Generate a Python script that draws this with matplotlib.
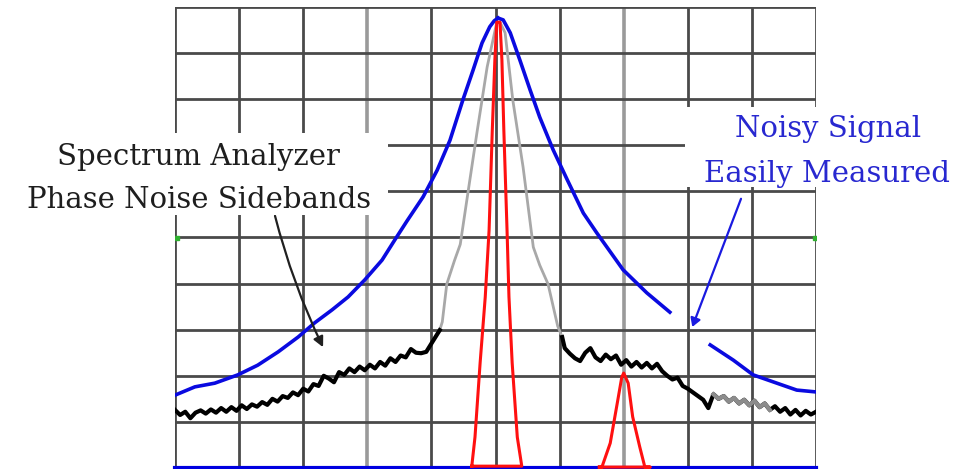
import numpy as np
import matplotlib
matplotlib.use("Agg")
import matplotlib.pyplot as plt
from matplotlib.patches import Rectangle

# ---- data (screen divisions: x 0..10, y 0..10) ----
blue_left_x = [0.00, 0.31, 0.62, 0.98, 1.29, 1.61, 1.92, 2.18, 2.45, 2.70, 2.96, 3.23, 3.43, 3.62,
               3.87, 4.09, 4.29, 4.49, 4.65, 4.79, 4.91, 4.98, 5.04]
blue_left_y = [1.58, 1.76, 1.84, 2.02, 2.23, 2.52, 2.84, 3.15, 3.43, 3.71, 4.08, 4.51, 4.95, 5.36,
               5.88, 6.46, 7.11, 7.98, 8.63, 9.22, 9.57, 9.70, 9.76]
blue_right_x = [5.04, 5.12, 5.23, 5.38, 5.54, 5.69, 5.90, 6.12, 6.37, 6.58, 6.99, 7.36, 7.72, np.nan,
                8.35, 8.71, 9.02, 9.39, 9.70, 10.00]
blue_right_y = [9.76, 9.72, 9.44, 8.85, 8.20, 7.61, 6.90, 6.25, 5.53, 5.10, 4.30, 3.80, 3.38, np.nan,
                2.67, 2.34, 2.02, 1.84, 1.69, 1.65]

gray_x = [4.13, 4.17, 4.24, 4.36, 4.45, 4.57, 4.71, 4.87, 4.96, 5.02, 5.07, 5.15, 5.27, 5.43, 5.59,
          5.69, 5.82, 5.97, 6.04]
gray_y = [2.99, 3.17, 3.99, 4.50, 4.85, 5.97, 7.27, 8.70, 9.28, 9.67, 9.67, 9.44, 7.98, 6.53, 4.79,
          4.40, 3.99, 3.08, 2.84]

red_main_x = [4.63, 4.68, 4.76, 4.84, 4.90, 4.95, 4.99, 5.02, 5.07, 5.10, 5.13, 5.18, 5.21, 5.26, 5.34, 5.41, 4.63]
red_main_y = [0.04, 0.67, 2.28, 3.71, 5.16, 7.33, 8.85, 9.67, 9.67, 8.85, 7.33, 5.16, 3.71, 2.28, 0.67, 0.04, 0.04]

red_small_x = [6.62, 6.66, 6.79, 6.90, 6.97, 7.00, 7.07, 7.14, 7.25, 7.33, 7.41, 6.62]
red_small_y = [0.02, 0.02, 0.54, 1.41, 1.97, 2.06, 1.84, 1.11, 0.46, 0.02, 0.02, 0.02]

noise_left_x = list(np.round(np.arange(0, 51) * 0.08, 2)) + [4.13]
noise_left_y = [1.26, 1.15, 1.22, 1.08, 1.20, 1.25, 1.18, 1.27, 1.20, 1.30,
                1.22, 1.32, 1.24, 1.36, 1.28, 1.38, 1.33, 1.43, 1.37, 1.50,
                1.44, 1.56, 1.52, 1.64, 1.58, 1.72, 1.66, 1.82, 1.78, 2.00,
                1.94, 1.86, 2.08, 2.02, 2.16, 2.08, 2.20, 2.12, 2.24, 2.16,
                2.30, 2.22, 2.38, 2.30, 2.44, 2.40, 2.58, 2.50, 2.49, 2.52,
                2.70, 2.99]

noise_right_x = [6.04] + list(np.round(6.0 + np.arange(1, 51) * 0.08, 2))
noise_right_y = [2.84, 2.60, 2.48, 2.38, 2.32, 2.50, 2.60, 2.40, 2.32, 2.46,
                 2.36, 2.44, 2.24, 2.34, 2.20, 2.30, 2.18, 2.28, 2.16, 2.26,
                 2.10, 2.00, 1.92, 1.96, 1.78, 1.72, 1.64, 1.56, 1.48, 1.30,
                 1.60, 1.50, 1.56, 1.44, 1.52, 1.40, 1.48, 1.36, 1.46, 1.32,
                 1.40, 1.26, 1.34, 1.22, 1.30, 1.16, 1.26, 1.14, 1.24, 1.16,
                 1.22]

left_label = ["Spectrum Analyzer", "Phase Noise Sidebands"]
right_label = ["Noisy Signal", "Easily Measured"]

# ---- figure ----
W, H = 964, 469
fig = plt.figure(figsize=(W / 100, H / 100), dpi=100)
fig.patch.set_facecolor("white")
ax = fig.add_axes([175 / W, 1 / H, 641 / W, 461 / H])
ax.set_xlim(0, 10)
ax.set_ylim(0, 10)
ax.axis("off")

grid_dark = "#4a4a4a"
grid_light = "#9a9a9a"
for i in range(11):
    c = grid_light if i in (3, 7) else grid_dark
    lw = 2.6 if i in (3, 7) else 2.0
    ax.axvline(i, color=c, lw=lw, zorder=1)
for j in range(1, 11):
    ax.axhline(j, color=grid_dark, lw=2.0, zorder=1)
ax.axhline(0, color="#0000e0", lw=3, zorder=6, clip_on=False)

# white label boxes
fig.add_artist(Rectangle((0, (H - 215) / H), 388 / W, 82 / H, transform=fig.transFigure,
                         facecolor="white", edgecolor="none", zorder=2))
fig.add_artist(Rectangle((685 / W, (H - 187) / H), (W - 685) / W, 80 / H, transform=fig.transFigure,
                         facecolor="white", edgecolor="none", zorder=2))

# traces
ax.plot(gray_x, gray_y, color="#a8a8a8", lw=2.0, zorder=3)
ax.plot(noise_left_x, noise_left_y, color="black", lw=3.0, zorder=4)
nrx = np.array(noise_right_x); nry = np.array(noise_right_y)
ax.plot(nrx, nry, color="black", lw=3.0, zorder=4)
m = (nrx >= 8.36) & (nrx <= 9.34)
ax.plot(nrx[m], nry[m], color="#8c8c8c", lw=3.0, zorder=4.5)
ax.plot(red_main_x, red_main_y, color="#ff1010", lw=2.2, zorder=7, clip_on=False)
ax.plot(red_small_x, red_small_y, color="#ff1010", lw=2.2, zorder=7, clip_on=False)
ax.plot(blue_left_x, blue_left_y, color="#0a0ae0", lw=2.6, zorder=5)
ax.plot(blue_right_x, blue_right_y, color="#0a0ae0", lw=2.6, zorder=5)

# small green markers
ax.plot([0.03, 9.98], [4.98, 4.98], ls="none", marker="s", ms=2.5, color="#30b030", zorder=6)

# annotation arrows
ax.annotate("", xy=(2.31, 2.62), xytext=(1.56, 5.47),
            arrowprops=dict(arrowstyle="-|>,head_length=0.6,head_width=0.3", color="#202020", lw=1.6,
                            connectionstyle="arc3,rad=0.05", shrinkA=0, shrinkB=0), zorder=6)
ax.annotate("", xy=(8.07, 3.06), xytext=(8.83, 5.84),
            arrowprops=dict(arrowstyle="-|>,head_length=0.5,head_width=0.3", color="#1a1ae0", lw=1.6,
                            shrinkA=0, shrinkB=0), zorder=6)

# labels
font = dict(family="DejaVu Serif", fontsize=21)
fig.text(198 / W, 1 - 165 / H, left_label[0], ha="center", va="baseline", color="#1e1e1e", zorder=8, **font)
fig.text(199 / W, 1 - 208 / H, left_label[1], ha="center", va="baseline", color="#1e1e1e", zorder=8, **font)
fig.text(828 / W, 1 - 137 / H, right_label[0], ha="center", va="baseline", color="#2828d0", zorder=8, **font)
fig.text(827 / W, 1 - 182 / H, right_label[1], ha="center", va="baseline", color="#2828d0", zorder=8, **font)

fig.savefig("out.png", dpi=100, facecolor="white")
